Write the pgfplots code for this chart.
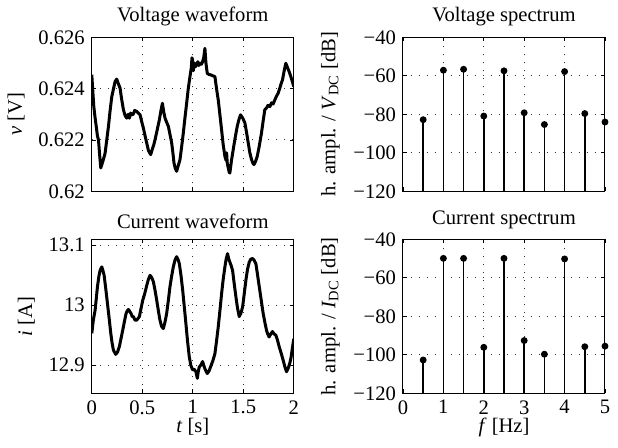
\documentclass[border=0pt]{standalone}
\usepackage{fontspec}
\setmainfont{Liberation Serif}
\usepackage{pgfplots}
\usepackage{pgfplotstable}
\pgfplotsset{compat=1.18}
\newcommand{\fs}{\fontsize{10.3}{12}\selectfont}
\pgfplotsset{
  every axis title shift=0pt,
  myax/.style={
    scale only axis, width=101pt, height=77pt,
    tick align=inside, major tick length=2pt,
    xtick pos=both, ytick pos=both,
    grid=major, grid style={dash pattern=on 0.6pt off 3.4pt, black!80, line width=0.5pt},
    axis line style={line width=0.5pt},
    every tick/.style={black, line width=0.4pt},
    every tick label/.append style={font=\fs},
    label style={font=\fs},
    xlabel style={yshift=5pt},
    title style={font=\fs, at={(0.5,1)}, anchor=south, yshift=1.9pt},
    clip=true,
  },
  wave/.style={black, line width=1.5pt, line join=round},
  stem/.style={black, line width=0.8pt, only marks, mark=*, mark size=1.3pt,
    error bars/.cd, y dir=minus, y explicit, error mark=none,
    error bar style={line width=0.8pt, black}},
}
\pgfplotstableread{
f v
0.5 -82.8
1.0 -57.1
1.5 -56.6
2.0 -80.9
2.5 -57.4
3.0 -79.2
3.5 -85.3
4.0 -57.8
4.5 -79.6
5.0 -84.0
}\vspec
\pgfplotstableread{
f v
0.5 -102.7
1.0 -49.9
1.5 -49.9
2.0 -96.1
2.5 -49.9
3.0 -92.6
3.5 -99.7
4.0 -50.2
4.5 -95.8
5.0 -95.5
}\ispec
\begin{document}
\begin{tikzpicture}
\useasboundingbox (-45.9pt,18.65pt) rectangle (263.1pt,-204.85pt);
% Voltage waveform
\begin{axis}[myax, at={(0pt,0pt)}, anchor=north west,
  title={Voltage waveform},
  xmin=0, xmax=2, ymin=0.62, ymax=0.626,
  xtick={0,0.5,1,1.5,2}, xticklabels={},
  ytick={0.62,0.622,0.624,0.626}, yticklabels={0.62,0.622,0.624,0.626},
  ylabel={\textit{v} [V]}]
\addplot[wave] coordinates {
(0.000,0.62454) (0.010,0.62390) (0.020,0.62330) (0.033,0.62285) (0.045,0.62250) (0.056,0.62215)
(0.066,0.62201) (0.078,0.62140) (0.089,0.62091) (0.100,0.62105) (0.112,0.62120) (0.132,0.62149)
(0.148,0.62200) (0.165,0.62253) (0.180,0.62310) (0.198,0.62369) (0.215,0.62400) (0.231,0.62428)
(0.247,0.62437) (0.262,0.62420) (0.280,0.62402) (0.295,0.62360) (0.313,0.62318) (0.330,0.62295)
(0.346,0.62285) (0.360,0.62300) (0.372,0.62285) (0.385,0.62305) (0.395,0.62298) (0.410,0.62300)
(0.425,0.62315) (0.445,0.62311) (0.460,0.62305) (0.478,0.62298) (0.495,0.62270) (0.511,0.62246)
(0.528,0.62215) (0.544,0.62188) (0.560,0.62160) (0.573,0.62150) (0.583,0.62143) (0.600,0.62165)
(0.613,0.62180) (0.626,0.62201) (0.648,0.62240) (0.669,0.62279) (0.685,0.62315) (0.699,0.62343)
(0.712,0.62310) (0.725,0.62285) (0.740,0.62270) (0.758,0.62253) (0.775,0.62220) (0.791,0.62188)
(0.803,0.62150) (0.814,0.62110) (0.826,0.62090) (0.840,0.62078) (0.856,0.62100) (0.873,0.62123)
(0.890,0.62175) (0.906,0.62227) (0.922,0.62285) (0.939,0.62343) (0.955,0.62400) (0.972,0.62447)
(0.985,0.62480) (0.992,0.62520) (0.998,0.62512) (1.005,0.62470) (1.015,0.62500) (1.025,0.62485)
(1.038,0.62492) (1.050,0.62505) (1.060,0.62490) (1.071,0.62499) (1.085,0.62495) (1.097,0.62505)
(1.108,0.62520) (1.120,0.62557) (1.130,0.62500) (1.143,0.62460) (1.160,0.62455) (1.176,0.62454)
(1.198,0.62450) (1.219,0.62447) (1.235,0.62400) (1.252,0.62356) (1.268,0.62300) (1.285,0.62240)
(1.300,0.62185) (1.318,0.62136) (1.330,0.62120) (1.335,0.62150) (1.341,0.62110) (1.352,0.62090)
(1.360,0.62075) (1.367,0.62071) (1.383,0.62120) (1.400,0.62162) (1.420,0.62210) (1.440,0.62253)
(1.457,0.62280) (1.473,0.62298) (1.495,0.62285) (1.516,0.62266) (1.532,0.62230) (1.549,0.62188)
(1.565,0.62150) (1.582,0.62123) (1.595,0.62110) (1.605,0.62104) (1.620,0.62115) (1.638,0.62136)
(1.660,0.62180) (1.680,0.62227) (1.697,0.62275) (1.713,0.62318) (1.730,0.62325) (1.745,0.62335)
(1.763,0.62330) (1.780,0.62345) (1.795,0.62340) (1.812,0.62356) (1.828,0.62370) (1.845,0.62382)
(1.860,0.62400) (1.875,0.62420) (1.888,0.62434) (1.905,0.62470) (1.921,0.62499) (1.940,0.62480)
(1.960,0.62460) (1.980,0.62435) (2.000,0.62408)
};
\end{axis}
% Voltage spectrum
\begin{axis}[myax, at={(155.6pt,0pt)}, anchor=north west,
  title={Voltage spectrum},
  xmin=0, xmax=5, ymin=-120, ymax=-40,
  xtick={0,1,2,3,4,5}, xticklabels={},
  ytick={-120,-100,-80,-60,-40}, yticklabels={−120,−100,−80,−60,−40},
  ylabel={h. ampl. / \textit{V}\textsubscript{DC} [dB]}]
\addplot[stem] table[x=f, y=v, y error expr=\thisrow{v}+120] {\vspec};
\end{axis}
% Current waveform
\begin{axis}[myax, at={(0pt,-101pt)}, anchor=north west,
  title={Current waveform},
  xmin=0, xmax=2, ymin=12.853, ymax=13.11,
  xtick={0,0.5,1,1.5,2}, xticklabels={0,0.5,1,1.5,2},
  ytick={12.9,13,13.1}, yticklabels={12.9,13,13.1},
  xlabel={\textit{t} [s]}, ylabel={\textit{i} [A]}]
\addplot[wave] coordinates {
(0.000,12.953) (0.015,12.975) (0.033,12.992) (0.045,13.012) (0.056,13.031) (0.070,13.048)
(0.082,13.058) (0.099,13.064) (0.110,13.058) (0.122,13.050) (0.138,13.028) (0.155,13.003)
(0.172,12.978) (0.188,12.953) (0.200,12.938) (0.214,12.925) (0.237,12.918) (0.255,12.922)
(0.273,12.931) (0.290,12.945) (0.306,12.958) (0.322,12.972) (0.339,12.986) (0.350,12.990)
(0.362,12.993) (0.375,12.990) (0.389,12.986) (0.400,12.981) (0.412,12.981) (0.428,12.975)
(0.445,12.975) (0.458,12.978) (0.471,12.981) (0.488,12.995) (0.504,13.008) (0.525,13.020)
(0.544,13.033) (0.560,13.043) (0.577,13.050) (0.594,13.046) (0.610,13.039) (0.626,13.025)
(0.643,13.008) (0.660,12.990) (0.675,12.975) (0.690,12.965) (0.708,12.961) (0.725,12.972)
(0.741,12.986) (0.758,13.008) (0.774,13.031) (0.790,13.048) (0.807,13.064) (0.825,13.076)
(0.840,13.081) (0.855,13.076) (0.867,13.069) (0.883,13.050) (0.900,13.025) (0.916,12.997)
(0.932,12.969) (0.948,12.940) (0.965,12.914) (0.980,12.900) (0.998,12.892) (1.015,12.893)
(1.031,12.889) (1.045,12.878) (1.055,12.890) (1.064,12.897) (1.080,12.900) (1.097,12.906)
(1.108,12.900) (1.120,12.894) (1.143,12.886) (1.160,12.890) (1.176,12.897) (1.198,12.907)
(1.219,12.919) (1.235,12.940) (1.252,12.964) (1.268,12.990) (1.285,13.019) (1.300,13.042)
(1.318,13.064) (1.330,13.077) (1.344,13.086) (1.355,13.078) (1.367,13.072) (1.380,13.066)
(1.394,13.058) (1.410,13.036) (1.427,13.014) (1.443,12.995) (1.460,12.981) (1.475,12.986)
(1.493,12.997) (1.510,13.020) (1.526,13.042) (1.542,13.060) (1.559,13.072) (1.575,13.077)
(1.592,13.078) (1.608,13.075) (1.625,13.069) (1.640,13.052) (1.658,13.031) (1.678,13.008)
(1.697,12.986) (1.713,12.972) (1.730,12.958) (1.742,12.952) (1.756,12.947) (1.772,12.952)
(1.789,12.956) (1.805,12.952) (1.822,12.950) (1.838,12.942) (1.855,12.931) (1.875,12.920)
(1.895,12.908) (1.912,12.897) (1.928,12.889) (1.945,12.895) (1.960,12.903) (1.972,12.912)
(1.983,12.925) (2.000,12.944)
};
\end{axis}
% Current spectrum
\begin{axis}[myax, at={(155.6pt,-101pt)}, anchor=north west,
  title={Current spectrum},
  xmin=0, xmax=5, ymin=-120, ymax=-40,
  xtick={0,1,2,3,4,5}, xticklabels={0,1,2,3,4,5},
  ytick={-120,-100,-80,-60,-40}, yticklabels={−120,−100,−80,−60,−40},
  xlabel={\textit{f} [Hz]},
  ylabel={h. ampl. / \textit{I}\textsubscript{DC} [dB]}]
\addplot[stem] table[x=f, y=v, y error expr=\thisrow{v}+120] {\ispec};
\end{axis}
\end{tikzpicture}
\end{document}
